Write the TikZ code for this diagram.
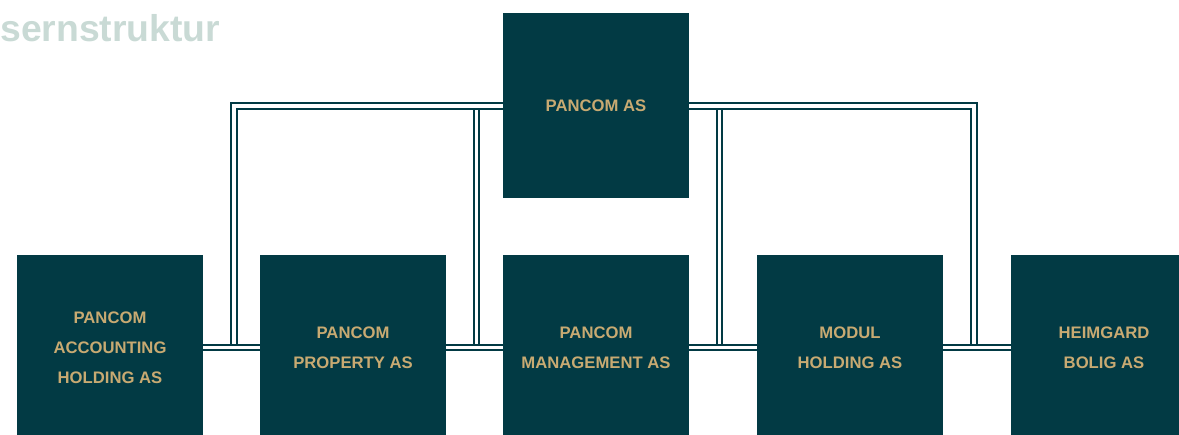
\documentclass[tikz,border=0pt]{standalone}
\usepackage{xcolor}
\usepackage{fontspec}
\setmainfont{Liberation Sans}
\usepackage{tikz}
\usetikzlibrary{backgrounds,calc}

\definecolor{kteal}{HTML}{023A44}
\definecolor{kgold}{HTML}{C8AA72}
\definecolor{ktitle}{HTML}{C9DAD5}

\begin{document}
\begin{tikzpicture}[
    x=0.75pt, y=-0.75pt,
    box/.style={fill=kteal, text=kgold, minimum width=139.5pt,
                minimum height=139.5pt, align=center, inner sep=0pt,
                font=\bfseries\fontsize{12.5}{22.5}\selectfont},
    topbox/.style={box, minimum height=138.75pt},
    bond/.style={draw=kteal, line width=1.6pt, double=white,
                 double distance=2.5pt},
  ]
  \useasboundingbox (0,0) rectangle (1179,435);

  % ── Title ──
  \node[anchor=base west, inner sep=0pt, text=ktitle,
        font=\bfseries\fontsize{28}{30}\selectfont] at (0,42) (title)
    {sernstruktur};

  % ── Top: parent ──
  \node[topbox] at (596, 105.5) (pancom) {PANCOM AS};

  % ── Bottom row: subsidiaries ──
  \node[box] at (110, 347.5) (acc)
    {PANCOM\\ACCOUNTING\\HOLDING AS};
  \node[box] at (353, 347.5) (prop)
    {PANCOM\\PROPERTY AS};
  \node[box] at (596, 347.5) (mgmt)
    {PANCOM\\MANAGEMENT AS};
  \node[box] at (850, 347.5) (modul)
    {MODUL\\HOLDING AS};
  \node[box] at (1104, 347.5) (heim)
    {HEIMGARD\\BOLIG AS};

  % ── Connectors ──
  \coordinate (t1) at (234, 106);
  \coordinate (t2) at (476.5, 106);
  \coordinate (t3) at (719.5, 106);
  \coordinate (t4) at (974, 106);

  \begin{scope}[on background layer]
    % inner drops
    \draw[bond] (t2) -- (t2 |- mgmt.center);
    \draw[bond] (t3) -- (t3 |- mgmt.center);
    % outer frame through the parent
    \draw[bond] (t1 |- acc.center) -- (t1) -- (t4) -- (t4 |- heim.center);
    % bottom rail
    \draw[bond] (acc) -- (heim);
  \end{scope}

\end{tikzpicture}
\end{document}
